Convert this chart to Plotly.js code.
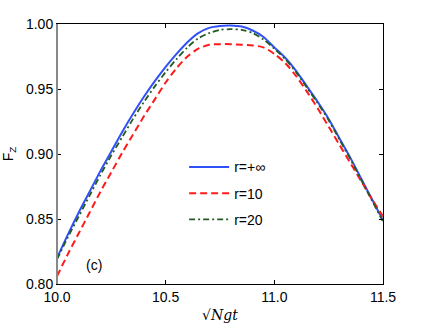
<!DOCTYPE html>
<html lang="en">
<head>
    <meta charset="UTF-8">
    <title>F_Z vs sqrt(N) g t</title>
    <script src="https://cdn.plot.ly/plotly-3.0.1.min.js"></script>
    <style>
        body { margin: 0; padding: 0; background: white; }
        #plot { width: 436px; height: 328px; }
    </style>
</head>
<body>
    <div id="plot"></div>

    <script>
        // time axis, sqrt(N) g t
        const tValues = [10.00, 10.05, 10.10, 10.15, 10.20, 10.25, 10.30, 10.35, 10.40, 10.45,
                         10.50, 10.55, 10.60, 10.65, 10.70, 10.75, 10.80, 10.85, 10.90, 10.95,
                         11.00, 11.05, 11.10, 11.15, 11.20, 11.25, 11.30, 11.35, 11.40, 11.45, 11.50];

        // fidelity
        const fzInf = [0.820, 0.838, 0.855, 0.871, 0.887, 0.902, 0.917, 0.931, 0.944, 0.956,
                       0.967, 0.977, 0.986, 0.993, 0.997, 0.9985, 0.9988, 0.998, 0.995, 0.990,
                       0.982, 0.974, 0.964, 0.952, 0.940, 0.927, 0.912, 0.897, 0.881, 0.865, 0.849];

        const fz10 = [0.806, 0.823, 0.839, 0.855, 0.871, 0.886, 0.901, 0.915, 0.929, 0.942,
                      0.955, 0.966, 0.975, 0.981, 0.984, 0.9845, 0.9845, 0.984, 0.9835, 0.982,
                      0.977, 0.970, 0.960, 0.948, 0.935, 0.921, 0.907, 0.893, 0.879, 0.865, 0.852];

        const fz20 = [0.819, 0.836, 0.852, 0.868, 0.884, 0.899, 0.913, 0.927, 0.940, 0.952,
                      0.963, 0.973, 0.982, 0.989, 0.993, 0.9955, 0.996, 0.9955, 0.993, 0.988,
                      0.981, 0.973, 0.963, 0.951, 0.939, 0.926, 0.911, 0.896, 0.880, 0.864, 0.848];

        const xTicks = [10.0, 10.5, 11.0, 11.5];
        const yTicks = [0.80, 0.85, 0.90, 0.95, 1.00];

        const traces = [
            {
                x: tValues, y: fzInf, type: 'scatter', mode: 'lines',
                name: 'r=+\u221e', legendgroup: 'a',
                line: { color: '#3050f8', width: 2, shape: 'spline', smoothing: 0.8 }
            },
            {
                x: tValues, y: fz10, type: 'scatter', mode: 'lines',
                name: 'r=10', legendgroup: 'b',
                line: { color: '#ff1a1a', width: 2, dash: '7px,4px', shape: 'spline', smoothing: 0.8 }
            },
            {
                x: tValues, y: fz20, type: 'scatter', mode: 'lines',
                name: 'r=20', legendgroup: 'c',
                line: { color: '#245a24', width: 1.8, dash: '6px,3px,2px,3px', shape: 'spline', smoothing: 0.8 }
            }
        ];

        const layout = {
            width: 436,
            height: 328,
            margin: { l: 57, r: 53, t: 24, b: 44 },
            paper_bgcolor: 'white',
            plot_bgcolor: 'white',
            font: { family: 'Liberation Sans, Arial, sans-serif', size: 14, color: '#000' },
            showlegend: true,
            legend: {
                x: 0.39, y: 0.51, xanchor: 'left', yanchor: 'top',
                bgcolor: 'rgba(0,0,0,0)',
                font: { size: 14 },
                traceorder: 'grouped',
                tracegroupgap: 5,
                itemwidth: 40
            },
            xaxis: {
                range: [10.0, 11.5],
                tickvals: xTicks,
                ticktext: xTicks.map(v => v.toFixed(1)),
                ticks: 'inside', ticklen: 4, tickcolor: '#000',
                showgrid: false, zeroline: false,
                showline: true, linecolor: '#000', linewidth: 1, mirror: 'ticks',
                title: { text: '\u221a<i>Ngt</i>', font: { family: 'DejaVu Serif, serif', size: 14 }, standoff: 6 }
            },
            yaxis: {
                range: [0.80, 1.00],
                tickvals: yTicks,
                ticktext: yTicks.map(v => v.toFixed(2)),
                ticks: 'inside', ticklen: 4, tickcolor: '#000',
                showgrid: false, zeroline: false,
                showline: true, linecolor: '#000', linewidth: 1, mirror: 'ticks',
                title: { text: 'F<sub>Z</sub>', font: { size: 14 }, standoff: 10 }
            },
            shapes: [
                // the left frame edge is drawn grey and a little heavier in the original
                {
                    type: 'line', xref: 'paper', yref: 'paper',
                    x0: 0, x1: 0, y0: 0, y1: 1,
                    line: { color: '#888', width: 2 }
                }
            ],
            annotations: [
                {
                    x: 10.169, y: 0.8146, xref: 'x', yref: 'y',
                    text: '(c)', showarrow: false,
                    font: { size: 14 }
                }
            ]
        };

        Plotly.newPlot('plot', traces, layout, { displayModeBar: false, staticPlot: true });
    </script>
</body>
</html>
